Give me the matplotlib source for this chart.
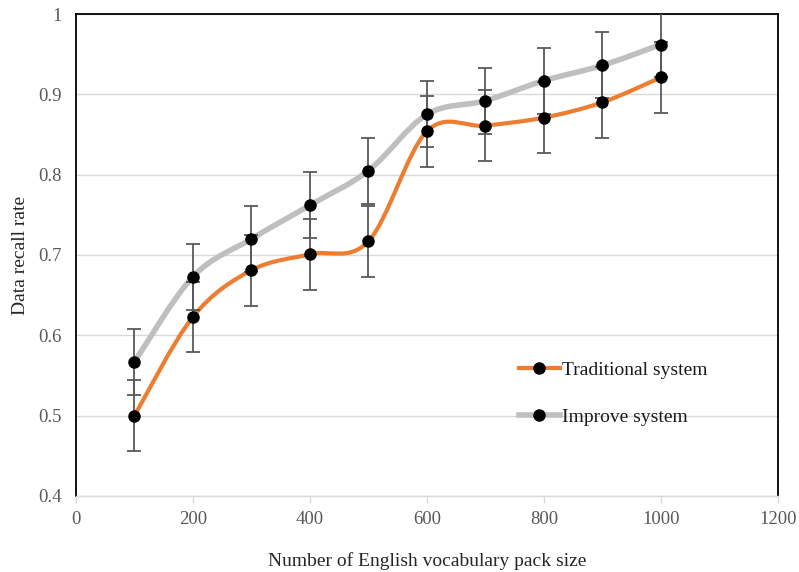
import matplotlib
matplotlib.use("Agg")
import matplotlib.pyplot as plt
from matplotlib.path import Path
from matplotlib.patches import PathPatch
from matplotlib.lines import Line2D
import numpy as np

plt.rcParams['font.family'] = ['Liberation Serif', 'DejaVu Serif']

pack_size = [100, 200, 300, 400, 500, 600, 700, 800, 900, 1000]
traditional = [0.500, 0.623, 0.681, 0.701, 0.717, 0.854, 0.861, 0.871, 0.890, 0.921]
improve = [0.567, 0.673, 0.720, 0.762, 0.805, 0.875, 0.892, 0.917, 0.936, 0.962]
traditional_err = [0.044] * 10
improve_err = [0.041] * 10

x_ticks = [0, 200, 400, 600, 800, 1000, 1200]
y_ticks = [0.4, 0.5, 0.6, 0.7, 0.8, 0.9, 1.0]
y_ticklabels = ['0.4', '0.5', '0.6', '0.7', '0.8', '0.9', '1']

ORANGE = '#ED7D31'
GRAY = '#BFBFBF'


def smooth_path(xs, ys):
    pts = np.column_stack([xs, ys]).astype(float)
    n = len(pts)
    verts = [pts[0]]
    codes = [Path.MOVETO]
    for i in range(n - 1):
        p0 = pts[i - 1] if i > 0 else pts[i]
        p1 = pts[i]
        p2 = pts[i + 1]
        p3 = pts[i + 2] if i + 2 < n else pts[i + 1]
        c1 = p1 + (p2 - p0) / 6.0
        c2 = p2 - (p3 - p1) / 6.0
        verts += [c1, c2, p2]
        codes += [Path.CURVE4] * 3
    return Path(verts, codes)


fig = plt.figure(figsize=(7.99, 5.72), dpi=100)
ax = fig.add_axes([0.0951, 0.1329, 0.8783, 0.8426])

ax.set_xlim(0, 1200)
ax.set_ylim(0.4, 1.0)
ax.set_xticks(x_ticks)
ax.set_yticks(y_ticks)
ax.set_yticklabels(y_ticklabels)

ax.grid(axis='y', color='#D9D9D9', linewidth=1.0, zorder=0)
ax.set_axisbelow(True)

for s in ['left', 'top', 'right']:
    ax.spines[s].set_color('black')
    ax.spines[s].set_linewidth(1.3)
ax.spines['bottom'].set_color('#D9D9D9')
ax.spines['bottom'].set_linewidth(1.0)

ax.tick_params(axis='x', colors='#D9D9D9', labelcolor='#595959', length=5,
               width=1, direction='out', labelsize=13.5, pad=6)
ax.tick_params(axis='y', length=0, labelcolor='#595959', labelsize=13.5, pad=10)

for ys, col, lw in [(traditional, ORANGE, 3.0), (improve, GRAY, 4.0)]:
    patch = PathPatch(smooth_path(pack_size, ys), facecolor='none',
                      edgecolor=col, linewidth=lw, zorder=2, capstyle='round')
    ax.add_patch(patch)

for ys, err in [(traditional, traditional_err), (improve, improve_err)]:
    ax.errorbar(pack_size, ys, yerr=err, fmt='none', ecolor='#595959',
                elinewidth=1.3, capsize=5, capthick=1.3, zorder=3, clip_on=True)

for ys in [traditional, improve]:
    ax.plot(pack_size, ys, linestyle='none', marker='o', markersize=8,
            color='black', zorder=4)

handles = [
    Line2D([], [], color=ORANGE, linewidth=3, marker='o', markersize=8,
           markerfacecolor='black', markeredgecolor='black'),
    Line2D([], [], color=GRAY, linewidth=4, marker='o', markersize=8,
           markerfacecolor='black', markeredgecolor='black'),
]
leg = ax.legend(handles, ['Traditional system', 'Improve system'],
                loc='center left', bbox_to_anchor=(0.631, 0.2125),
                frameon=False, fontsize=14, handlelength=2.1,
                handletextpad=0.1, labelspacing=1.5, borderpad=0,
                borderaxespad=0)
for t in leg.get_texts():
    t.set_color('#1a1a1a')

ax.set_xlabel('Number of English vocabulary pack size', fontsize=14,
              color='#262626', labelpad=17.5)
ax.set_ylabel('Data recall rate', fontsize=14, color='#262626', labelpad=7)

fig.savefig('out.png', dpi=100)
